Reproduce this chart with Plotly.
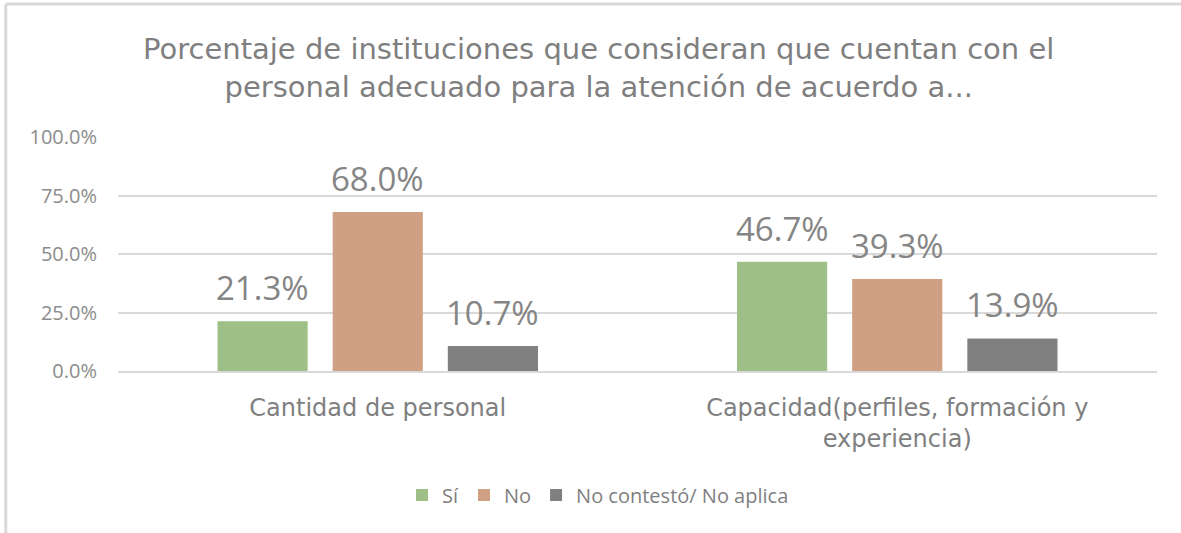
import plotly.graph_objects as go

categories = ["Cantidad de personal", "Capacidad(perfiles, formación y<br>experiencia)"]
series_names = ["Sí", "No", "No contestó/ No aplica"]
si_values = [0.213, 0.467]
no_values = [0.680, 0.393]
nc_values = [0.107, 0.139]
tick_vals = [0, 0.25, 0.5, 0.75, 1.0]
tick_text = ["0.0%", "25.0%", "50.0%", "75.0%", "100.0%"]
title_text = ("Porcentaje de instituciones que consideran que cuentan con el<br>"
              "personal adecuado para la atención de acuerdo a...")

colors = ["#9fbf88", "#cfa083", "#808080"]
series_values = [si_values, no_values, nc_values]

W, H = 1181, 533
ML, MR, MT, MB = 118, 24, 137, 162
BARGAP, GROUPGAP = 0.335, 0.217
plot_w = W - ML - MR
cat_w = plot_w / len(categories)
slot_w = cat_w * (1 - BARGAP) / len(series_names)

fig = go.Figure()
annotations = []
for i, (name, vals, col) in enumerate(zip(series_names, series_values, colors)):
    fig.add_trace(go.Bar(
        x=categories, y=vals, name=name,
        marker=dict(color=col, line=dict(width=0)),
    ))
    for c, v in zip(categories, vals):
        annotations.append(dict(
            x=c, y=v, xref="x", yref="y", text=f"{v*100:.1f}%",
            xshift=(i - 1) * slot_w, yshift=9, yanchor="bottom", xanchor="center",
            showarrow=False,
            font=dict(family="Open Sans", size=33, color="#858585"),
        ))

annotations.append(dict(
    text=title_text, xref="paper", yref="paper", x=0.462, y=1.0,
    yshift=69, xanchor="center", yanchor="middle", showarrow=False,
    font=dict(family="DejaVu Sans", size=29, color="#7f7f7f"),
))

fig.update_layout(
    width=W, height=H,
    paper_bgcolor="white", plot_bgcolor="white",
    margin=dict(l=ML, r=MR, t=MT, b=MB),
    barmode="group", bargap=BARGAP, bargroupgap=GROUPGAP,
    showlegend=True,
    legend=dict(orientation="h", x=0.462, xanchor="center", y=-0.53, yanchor="middle",
                font=dict(family="Open Sans", size=20, color="#7f7f7f"),
                itemwidth=30, traceorder="normal"),
    annotations=annotations,
    shapes=[dict(type="line", xref="paper", yref="paper",
                 x0=-0.108, x1=1.1, y0=1.568, y1=1.568,
                 line=dict(color="#d9d9d9", width=3)),
            dict(type="line", xref="paper", yref="paper",
                 x0=-0.108, x1=-0.108, y0=1.568, y1=-0.8,
                 line=dict(color="#d9d9d9", width=3))],
)
fig.update_yaxes(range=[0, 1.0], tickvals=tick_vals, ticktext=tick_text,
                 showgrid=True, gridcolor="#d9d9d9", gridwidth=2,
                 zeroline=False, showline=False, ticks="", ticklabelstandoff=20,
                 tickfont=dict(family="Open Sans", size=20, color="#8c8c8c"))
fig.update_xaxes(showline=True, linecolor="#d9d9d9", linewidth=2, ticks="",
                 ticklabelstandoff=14,
                 tickfont=dict(family="DejaVu Sans", size=24, color="#7f7f7f"))

fig.write_html("out.html", config={"displayModeBar": False},
               post_script="document.body.style.margin='0';")
